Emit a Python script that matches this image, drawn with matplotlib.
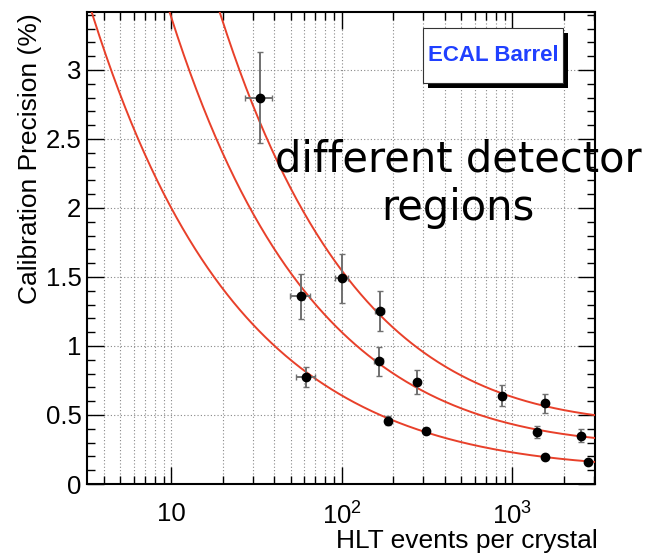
import matplotlib.pyplot as plt
import numpy as np
from matplotlib.ticker import LogLocator, MultipleLocator, FixedFormatter, FixedLocator, NullFormatter

plt.rcParams['font.family'] = ['Liberation Sans', 'DejaVu Sans']
plt.rcParams['mathtext.fontset'] = 'custom'
plt.rcParams['mathtext.rm'] = 'Liberation Sans'

# calibration results, one group per detector region
n_a = [32.9, 100, 167, 873, 1563]
prec_a = [2.80, 1.49, 1.25, 0.64, 0.585]
perr_a = [0.33, 0.178, 0.145, 0.076, 0.069]
nerr_a = [6.0, 8.5, 10.0, 8.0, 8.0]

n_b = [57.2, 165, 276, 1403, 2512]
prec_b = [1.36, 0.89, 0.74, 0.377, 0.348]
perr_b = [0.163, 0.105, 0.087, 0.043, 0.047]
nerr_b = [7.8, 10.0, 9.0, 8.0, 8.0]

n_c = [61.9, 186, 312, 1563, 2761]
prec_c = [0.775, 0.46, 0.384, 0.196, 0.16]
perr_c = [0.072, 0.036, 0.022, 0.015, 0.015]
nerr_c = [8.0, 7.0, 9.0, 8.0, 8.0]

# fit parameters: sigma = sqrt(stat^2 / N + const^2)
fit_stat = [14.87, 10.65, 6.31]
fit_const = [0.42, 0.272, 0.112]

W, H = 646, 554
fig = plt.figure(figsize=(W / 100, H / 100), dpi=100)
ax = fig.add_axes([87/W, 70/H, 508/W, 472/H])

xmin, xmax = 3.2, 3050
ax.set_xscale('log')
ax.set_xlim(xmin, xmax)
ax.set_ylim(0, 3.42)

ax.grid(True, which='both', axis='x', linestyle=(0, (1, 2)), color='#888888', linewidth=0.8)
ax.grid(True, which='major', axis='y', linestyle=(0, (1, 2)), color='#888888', linewidth=0.8)

nn = np.logspace(np.log10(xmin), np.log10(xmax), 400)
for s, c in zip(fit_stat, fit_const):
    ax.plot(nn, np.sqrt(s**2 / nn + c**2), color='#e8402a', linewidth=1.4, zorder=3)

for n, p, pe, ne in [(n_a, prec_a, perr_a, nerr_a),
                     (n_b, prec_b, perr_b, nerr_b),
                     (n_c, prec_c, perr_c, nerr_c)]:
    ax.errorbar(n, p, yerr=pe, xerr=ne, fmt='o', color='black', markersize=6,
                ecolor='#707070', elinewidth=1.4, capsize=2.5, capthick=1.0, zorder=4)

ax.xaxis.set_major_locator(FixedLocator([10, 100, 1000]))
ax.xaxis.set_major_formatter(FixedFormatter(['10', r'$\mathregular{10^{2}}$', r'$\mathregular{10^{3}}$']))
ax.xaxis.set_minor_locator(LogLocator(base=10, subs=np.arange(2, 10), numticks=20))
ax.xaxis.set_minor_formatter(NullFormatter())
ax.yaxis.set_minor_locator(MultipleLocator(0.1))
ax.set_yticks([0, 0.5, 1, 1.5, 2, 2.5, 3])
ax.set_yticklabels(['0', '0.5', '1', '1.5', '2', '2.5', '3'])

ax.tick_params(which='both', direction='in', top=True, right=True, width=1.0, colors='black')
ax.tick_params(which='major', length=12)
ax.tick_params(which='minor', length=6)
ax.tick_params(axis='x', which='major', pad=13, labelsize=18.5)
ax.tick_params(axis='y', which='major', pad=4, labelsize=18.5)
for sp in ax.spines.values():
    sp.set_linewidth(1.5)

fig.text(30/W, 1 - 13/H, 'Calibration Precision (%)', rotation=90,
         ha='center', va='top', fontsize=19)
fig.text(598/W, 1 - 541/H, 'HLT events per crystal', ha='right', va='center', fontsize=19)

# region label box with drop shadow
bx0, by0, bw, bh = 423, 28, 140, 55
fig.patches.append(plt.Rectangle((( bx0 + 5) / W, 1 - (by0 + bh + 5) / H), bw / W, bh / H,
                                 transform=fig.transFigure, facecolor='black',
                                 edgecolor='none', zorder=5))
fig.patches.append(plt.Rectangle((bx0 / W, 1 - (by0 + bh) / H), bw / W, bh / H,
                                 transform=fig.transFigure, facecolor='white',
                                 edgecolor='#333333', linewidth=0.8, zorder=6))
fig.text((bx0 + bw / 2) / W, 1 - (by0 + bh / 2) / H, 'ECAL Barrel', ha='center', va='center',
         fontsize=16, fontweight='bold', color='#2040ff', zorder=7)

fig.text(458/W, 1 - 160/H, 'different detector', ha='center', va='center',
         fontsize=30, family=['DejaVu Sans'], zorder=10)
fig.text(458/W, 1 - 208/H, 'regions', ha='center', va='center',
         fontsize=30, family=['DejaVu Sans'], zorder=10)

fig.savefig('out.png', dpi=100)
